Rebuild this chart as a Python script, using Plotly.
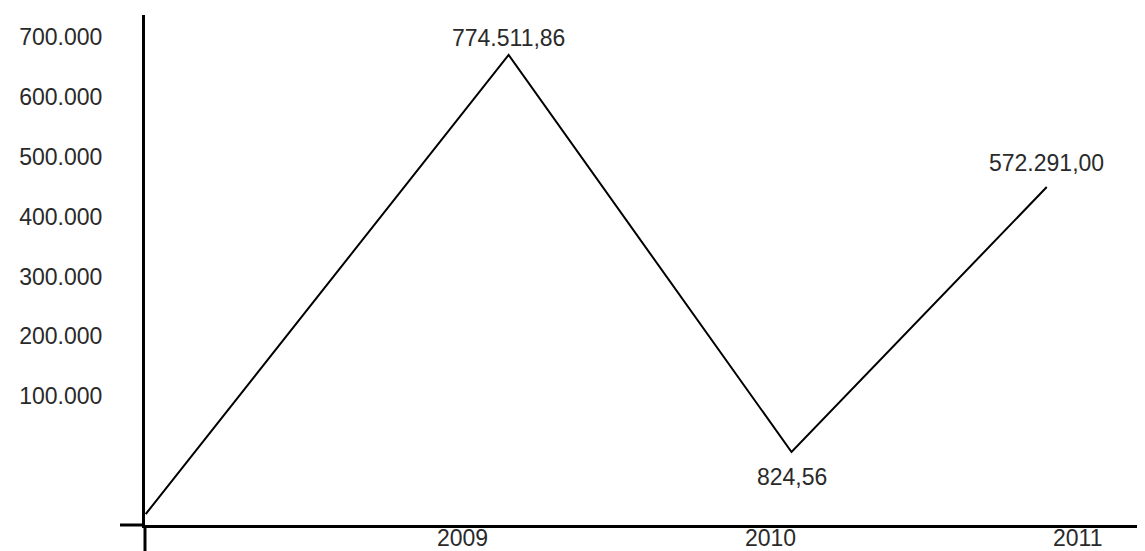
import plotly.graph_objects as go

# Data
point_x = [2007.97, 2009.15, 2010.07, 2010.90]          # horizontal position in year units
point_y = [-97000, 670600, 6700, 449800]                  # plotted height on the value axis
label_values = [None, 774511.86, 824.56, 572291.00]      # printed data labels
years = [2009, 2010, 2011]
y_ticks = [100000, 200000, 300000, 400000, 500000, 600000, 700000]

FONT = "Liberation Sans, Arial, sans-serif"
TXT = "#2a2a2a"
label_shift = [0, 17, -25, 24]  # pixel offset of each label's centre from its point


def fmt(v):
    s = f"{v:,.2f}"
    return s.replace(",", "#").replace(".", ",").replace("#", ".")


fig = go.Figure()
fig.add_trace(go.Scatter(
    x=point_x, y=point_y, mode="lines",
    line=dict(color="black", width=2), hoverinfo="skip", showlegend=False,
))

annotations = []
for x, y, v, s in zip(point_x, point_y, label_values, label_shift):
    if v is None:
        continue
    annotations.append(dict(
        x=x, y=y, xref="x", yref="y", text=fmt(v), showarrow=False,
        xanchor="center", yanchor="middle", yshift=s,
        font=dict(family=FONT, size=23, color=TXT),
    ))
# year labels just under the horizontal axis line
for yr in years:
    annotations.append(dict(
        x=yr, y=0, xref="x", yref="paper", text=str(yr), showarrow=False,
        xanchor="center", yanchor="top", yshift=2,
        font=dict(family=FONT, size=23, color=TXT),
    ))

fig.update_layout(
    width=1137, height=543,
    margin=dict(l=137, r=0, t=7, b=26, autoexpand=False),
    paper_bgcolor="white", plot_bgcolor="white",
    separators=",.",
    font=dict(family=FONT, size=23, color=TXT),
    xaxis=dict(
        range=[2007.9675, 2011.2195], showticklabels=False, automargin=False,
        showgrid=False, zeroline=False, showline=True,
        linecolor="black", linewidth=3, ticks="",
    ),
    yaxis=dict(
        range=[-115385, 737458], tickvals=y_ticks, tickformat=",.0f",
        automargin=False,
        showgrid=False, zeroline=False, showline=True,
        linecolor="black", linewidth=3, ticks="", ticklabelstandoff=35,
    ),
    annotations=annotations,
    shapes=[
        dict(type="line", xref="paper", yref="paper", x0=-0.025, x1=0.0, y0=0, y1=0,
             line=dict(color="black", width=3)),
        dict(type="line", xref="paper", yref="paper", x0=0, x1=0, y0=0, y1=-0.06,
             line=dict(color="black", width=3)),
    ],
)

fig.write_html("out.html")
